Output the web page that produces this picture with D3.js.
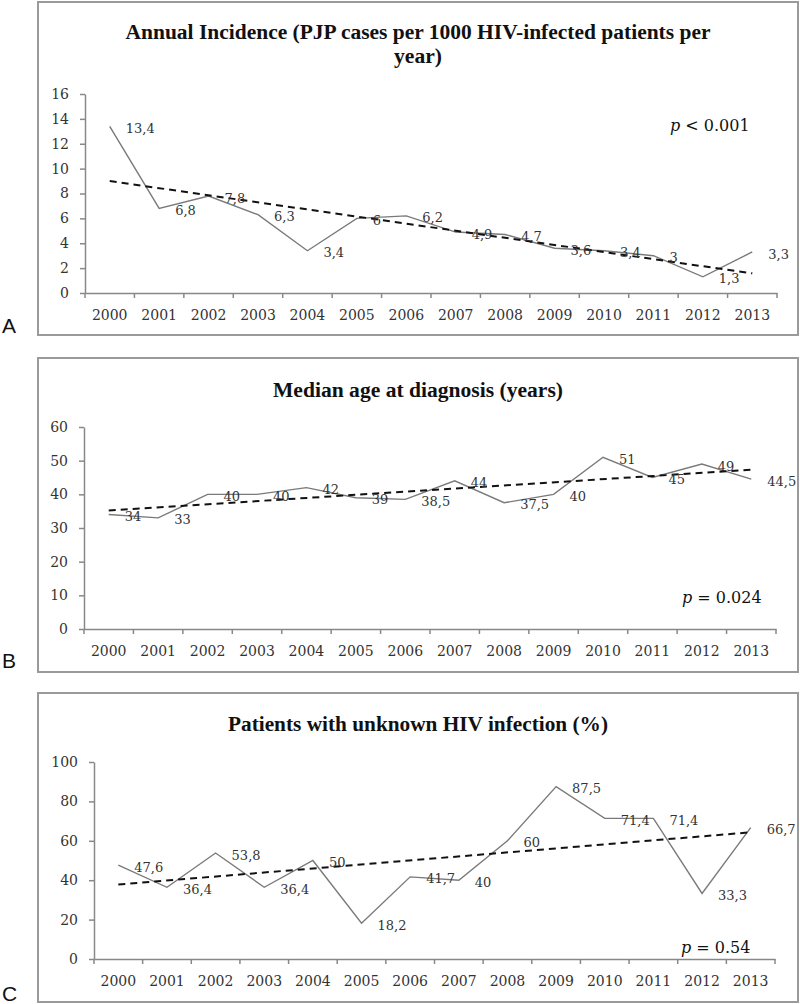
<!DOCTYPE html>
<html><head><meta charset="utf-8">
<script src="https://cdn.jsdelivr.net/npm/d3@7"></script>
<style>
html,body{margin:0;padding:0;background:#fff;}
svg{display:block;}
</style>
</head><body>
<svg id="chart" width="800" height="1004"></svg>
<script>
const years = ["2000","2001","2002","2003","2004","2005","2006","2007","2008","2009","2010","2011","2012","2013"];
const incidence = [13.4,6.8,7.8,6.3,3.4,6,6.2,4.9,4.7,3.6,3.4,3,1.3,3.3];
const medianAge = [34,33,40,40,42,39,38.5,44,37.5,40,51,45,49,44.5];
const unknownHIV = [47.6,36.4,53.8,36.4,50,18.2,41.7,40,60,87.5,71.4,71.4,33.3,66.7];
const trendA = [9.0,1.58];
const trendB = [35.2,47.3];
const trendC = [37.8,64.3];
const ticksA = [0,2,4,6,8,10,12,14,16];
const ticksB = [0,10,20,30,40,50,60];
const ticksC = [0,20,40,60,80,100];
const titleA = ["Annual Incidence (PJP cases per 1000 HIV-infected patients per","year)"];
const titleB = ["Median age at diagnosis (years)"];
const titleC = ["Patients with unknown HIV infection (%)"];
const pA = ["p"," < 0.001"], pB = ["p"," = 0.024"], pC = ["p"," = 0.54"];

const svg = d3.select("#chart");
const fmt = v => String(v).replace(".", ",");

const panels = [
  {letter:"A", box:[38,2,760,333], plot:{x0:85,x1:777,yT:94,y0:293}, max:16, ticks:ticksA, data:incidence, trend:trendA,
   title:titleA, titleY:[39,63], titleW:[585,48], p:pA, pPos:[670,131], letterY:333},
  {letter:"B", box:[38,358,760,314], plot:{x0:84,x1:776,yT:427,y0:629}, max:60, ticks:ticksB, data:medianAge, trend:trendB,
   title:titleB, titleY:[397], titleW:[290], p:pB, pPos:[682,603], letterY:668},
  {letter:"C", box:[38,693,760,309], plot:{x0:94,x1:775,yT:762,y0:959}, max:100, ticks:ticksC, data:unknownHIV, trend:trendC,
   title:titleC, titleY:[731], titleW:[380], p:pC, pPos:[681,953], letterY:1001}
];

panels.forEach(P => {
  const g = svg.append("g");
  g.append("rect").attr("x",P.box[0]).attr("y",P.box[1]).attr("width",P.box[2]).attr("height",P.box[3])
    .attr("fill","#fff").attr("stroke","#9a9a9a").attr("stroke-width",2);
  g.append("text").attr("x",2).attr("y",P.letterY).text(P.letter)
    .attr("font-family","Liberation Sans, Arial, sans-serif").attr("font-size",21).attr("fill","#111");

  P.title.forEach((t,i) => {
    g.append("text").attr("x",418).attr("y",P.titleY[i]).attr("text-anchor","middle")
      .attr("font-family","Liberation Serif, serif").attr("font-weight","bold").attr("font-size",20)
      .attr("fill","#111").attr("textLength",P.titleW[i]).attr("lengthAdjust","spacingAndGlyphs").text(t);
  });

  const x = d3.scaleBand().domain(years).range([P.plot.x0,P.plot.x1]).padding(0);
  const y = d3.scaleLinear().domain([0,P.max]).range([P.plot.y0,P.plot.yT]);
  const cx = d => x(d) + x.bandwidth()/2;

  // y axis
  const ya = g.append("g").attr("transform",`translate(${P.plot.x0},0)`)
    .call(d3.axisLeft(y).tickValues(P.ticks).tickSize(5).tickSizeOuter(0).tickPadding(11).tickFormat(d3.format("d")));
  ya.select(".domain").attr("stroke","#888").attr("stroke-width",1.5);
  ya.selectAll(".tick line").attr("stroke","#888").attr("stroke-width",1.5);
  ya.selectAll(".tick text").attr("font-family","DejaVu Serif, serif").attr("font-size",14).attr("fill","#333");

  // x axis labels
  const xa = g.append("g").attr("transform",`translate(0,${P.plot.y0})`)
    .call(d3.axisBottom(x).tickSize(0).tickSizeOuter(0).tickPadding(17));
  xa.select(".domain").attr("stroke","#888").attr("stroke-width",1.5);
  xa.selectAll(".tick text").attr("font-family","DejaVu Serif, serif").attr("font-size",14).attr("fill","#333");
  // boundary ticks
  const bounds = years.map(d => x(d)).concat([P.plot.x1]);
  g.selectAll(null).data(bounds).enter().append("line")
    .attr("x1",d=>d).attr("x2",d=>d).attr("y1",P.plot.y0).attr("y2",P.plot.y0+5)
    .attr("stroke","#888").attr("stroke-width",1.5);

  // data line
  const line = d3.line().x((d,i)=>cx(years[i])).y(d=>y(d));
  g.append("path").datum(P.data).attr("d",line).attr("fill","none")
    .attr("stroke","#7a7a7a").attr("stroke-width",1.4);

  // trend line
  g.append("line").attr("x1",cx(years[0])).attr("y1",y(P.trend[0]))
    .attr("x2",cx(years[years.length-1])).attr("y2",y(P.trend[1]))
    .attr("stroke","#111").attr("stroke-width",2).attr("stroke-dasharray","7,5");

  // data labels
  g.selectAll(null).data(P.data).enter().append("text")
    .attr("x",(d,i)=>cx(years[i])+16).attr("y",d=>y(d)+2).attr("dy","0.35em")
    .attr("font-family","DejaVu Serif, serif").attr("font-size",13).attr("fill","#333")
    .text(d=>fmt(d));

  // p value
  const pt = g.append("text").attr("x",P.pPos[0]).attr("y",P.pPos[1])
    .attr("font-family","DejaVu Serif, serif").attr("font-size",16).attr("fill","#111");
  pt.append("tspan").attr("font-style","italic").text(P.p[0]);
  pt.append("tspan").text(P.p[1]);
});
</script>
</body></html>
